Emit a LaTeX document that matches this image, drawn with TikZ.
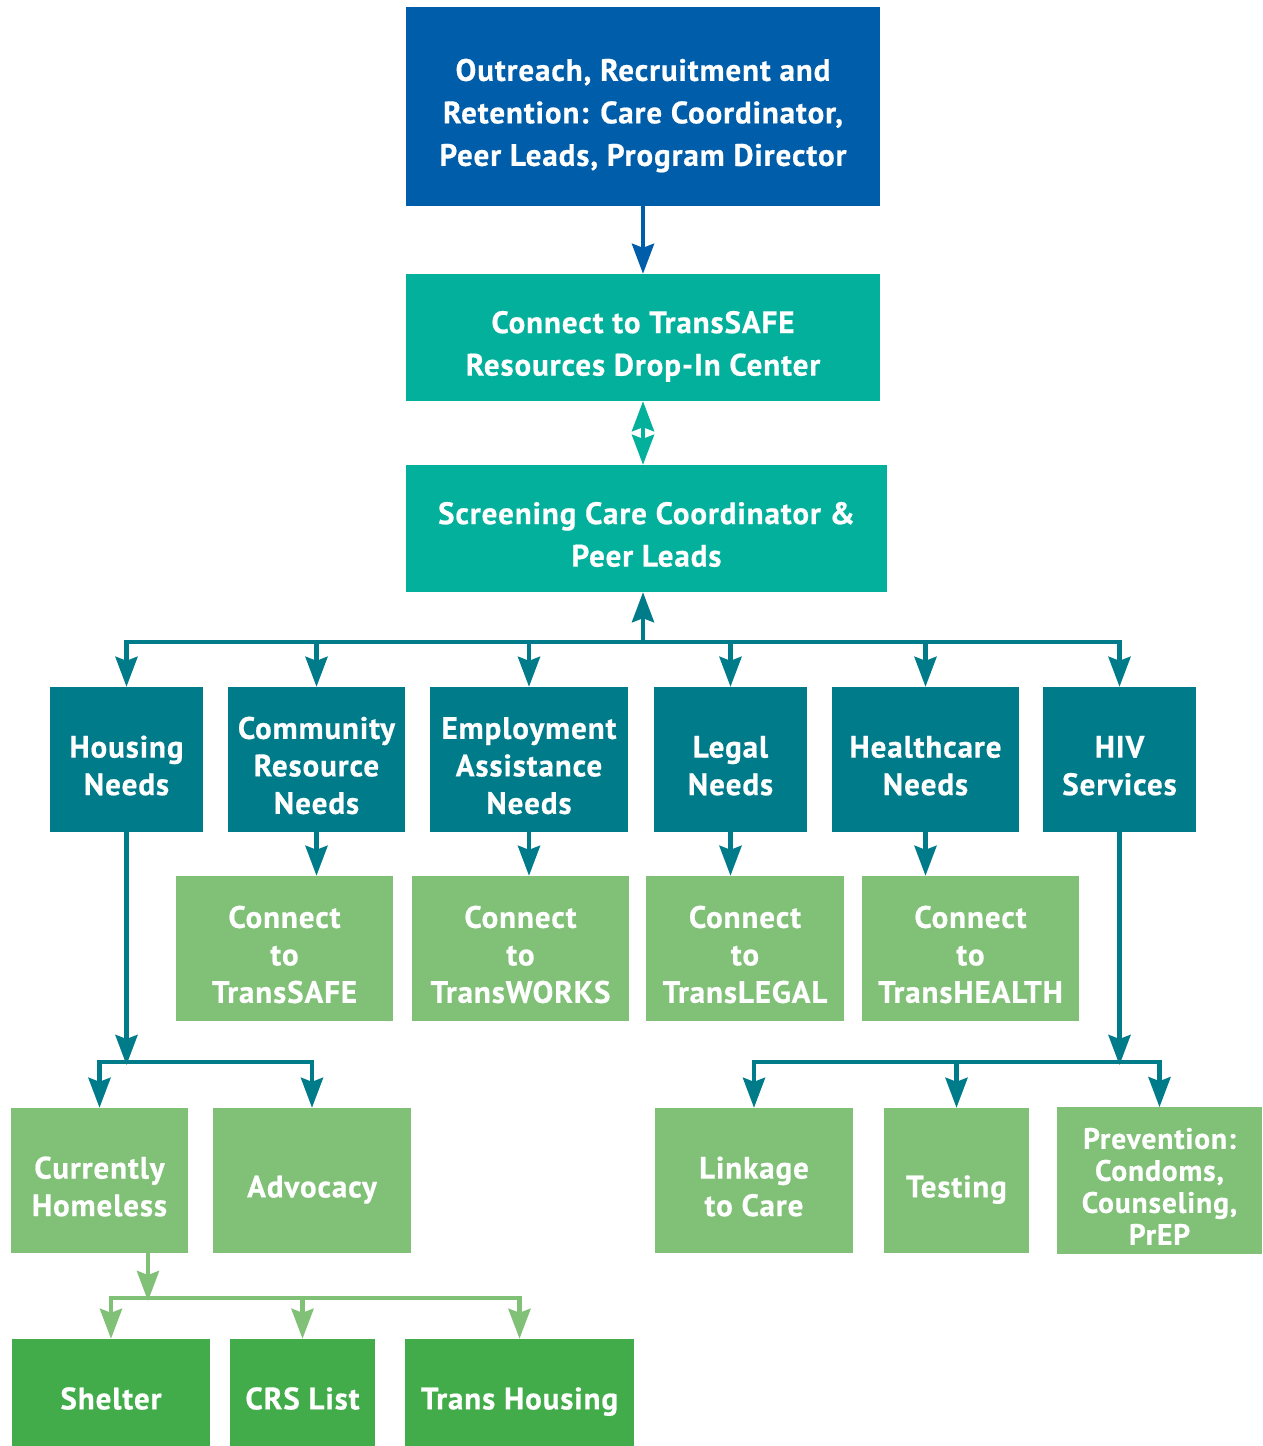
\documentclass[tikz,border=0pt]{standalone}
\usepackage{fontspec}
\setmainfont{PT Sans}[BoldFeatures={FakeBold=0.6}]
\usetikzlibrary{arrows.meta}
\definecolor{cblue}{HTML}{005DAA}
\definecolor{cteal}{HTML}{03B09B}
\definecolor{cdark}{HTML}{007B8A}
\definecolor{clight}{HTML}{80C077}
\definecolor{cgreen}{HTML}{43AC4A}
\newcommand\tp{\rule{0pt}{\dimexpr 1em+12pt\relax}}
\newcommand\bt{\rule[-0.3em]{0pt}{0pt}}
\tikzset{
  box/.style={draw=none, inner sep=0pt, align=center, text=white,
    font=\fontsize{31}{37.5}\selectfont\bfseries\addfontfeatures{LetterSpace=3}},
  bigbox/.style={box, font=\fontsize{31}{42.5}\selectfont\bfseries\addfontfeatures{LetterSpace=3}},
  link/.style={line width=4.5pt, draw=cdark},
  tip/.tip={Stealth[length=30pt,width=22pt,inset=4pt]},
  arr/.style={link, -tip},
  bus/.style={link, line cap=rect},
}
\begin{document}
\begin{tikzpicture}[x=1pt,y=-1pt]
\useasboundingbox (0,0) rectangle (1262,1446);
% boxes
\node[bigbox, fill=cblue, minimum width=474, minimum height=199] (top) at (643,106.5)
  {\tp Outreach, Recruitment and\\Retention: Care Coordinator,\\Peer Leads, Program Director\bt};
\node[bigbox, fill=cteal, minimum width=474, minimum height=127] (conn) at (643,337.5)
  {\tp Connect to TransSAFE\\Resources Drop-In Center\bt};
\node[bigbox, fill=cteal, minimum width=481, minimum height=127] (scr) at (646.5,528.5)
  {\tp Screening Care Coordinator \&\\Peer Leads\bt};
% needs row
\node[box, fill=cdark, minimum width=153, minimum height=145] (hous) at (126.5,759.5) {\tp Housing\\Needs\bt};
\node[box, fill=cdark, minimum width=177, minimum height=145] (comm) at (316.5,759.5) {\tp Community\\Resource\\Needs\bt};
\node[box, fill=cdark, minimum width=198, minimum height=145] (empl) at (529,759.5) {\tp Employment\\Assistance\\Needs\bt};
\node[box, fill=cdark, minimum width=153, minimum height=145] (legal) at (730.5,759.5) {\tp Legal\\Needs\bt};
\node[box, fill=cdark, minimum width=187, minimum height=145] (health) at (925.5,759.5) {\tp Healthcare\\Needs\bt};
\node[box, fill=cdark, minimum width=153, minimum height=145] (hiv) at (1119.5,759.5) {\tp HIV\\Services\bt};
% connect row
\node[box, fill=clight, minimum width=217, minimum height=145] (tsafe) at (284.5,948.5) {\tp Connect\\to\\TransSAFE\bt};
\node[box, fill=clight, minimum width=217, minimum height=145] (tworks) at (520.5,948.5) {\tp Connect\\to\\TransWORKS\bt};
\node[box, fill=clight, minimum width=198, minimum height=145] (tlegal) at (745,948.5) {\tp Connect\\to\\TransLEGAL\bt};
\node[box, fill=clight, minimum width=217, minimum height=145] (thealth) at (970.5,948.5) {\tp Connect\\to\\TransHEALTH\bt};
% housing children
\node[box, fill=clight, minimum width=177, minimum height=145] (home) at (99.5,1180.5) {\tp Currently\\Homeless\bt};
\node[box, fill=clight, minimum width=198, minimum height=145] (adv) at (312,1180.5) {\tp Advocacy\bt};
% hiv children
\node[box, fill=clight, minimum width=198, minimum height=145] (link) at (754,1180.5) {\tp Linkage\\to Care\bt};
\node[box, fill=clight, minimum width=145, minimum height=145] (test) at (956.5,1180.5) {\tp Testing\bt};
\node[box, fill=clight, minimum width=205, minimum height=145, font=\fontsize{29.5}{32}\selectfont\bfseries\addfontfeatures{LetterSpace=3}] (prev) at (1159.5,1180.5) {\tp Prevention:\\Condoms,\\Counseling,\\PrEP\bt};
% homeless children
\node[box, fill=cgreen, minimum width=198, minimum height=107] (shel) at (111,1392.5) {\tp Shelter\bt};
\node[box, fill=cgreen, minimum width=145, minimum height=107] (crs) at (302.5,1392.5) {\tp CRS List\bt};
\node[box, fill=cgreen, minimum width=229, minimum height=107] (thous) at (519.5,1392.5) {\tp Trans Housing\bt};
% coordinates
\coordinate (b1) at (643,642);
\coordinate (b2) at (126.5,1062);
\coordinate (b3) at (1119.5,1062);
\coordinate (b4) at (148,1298);
% connectors
\draw[arr, draw=cblue] (top.south) -- (conn.north);
\draw[link, draw=cteal, tip-tip] (conn.south) -- (conn.south |- scr.north);
\draw[arr] (b1) -- (b1 |- scr.south);
\draw[bus] (hous.north |- b1) -- (hiv.north |- b1);
\foreach \n in {hous,comm,empl,legal,health,hiv} \draw[arr] (\n.north |- b1) -- (\n.north);
\draw[arr] (comm.south) -- (comm.south |- tsafe.north);
\draw[arr] (empl.south) -- (empl.south |- tworks.north);
\draw[arr] (legal.south) -- (legal.south |- tlegal.north);
\draw[arr] (health.south) -- (health.south |- thealth.north);
\draw[arr] (hous.south) -- ([yshift=-3pt]b2);
\draw[bus] (home.north |- b2) -- (adv.north |- b2);
\foreach \n in {home,adv} \draw[arr] (\n.north |- b2) -- (\n.north);
\draw[arr] (hiv.south) -- ([yshift=-3pt]b3);
\draw[bus] (link.north |- b3) -- (prev.north |- b3);
\foreach \n in {link,test,prev} \draw[arr] (\n.north |- b3) -- (\n.north);
\draw[arr, draw=clight] (home.south -| b4) -- ([yshift=-3pt]b4);
\draw[bus, draw=clight] (shel.north |- b4) -- (thous.north |- b4);
\foreach \n in {shel,crs,thous} \draw[arr, draw=clight] (\n.north |- b4) -- (\n.north);
\end{tikzpicture}
\end{document}
